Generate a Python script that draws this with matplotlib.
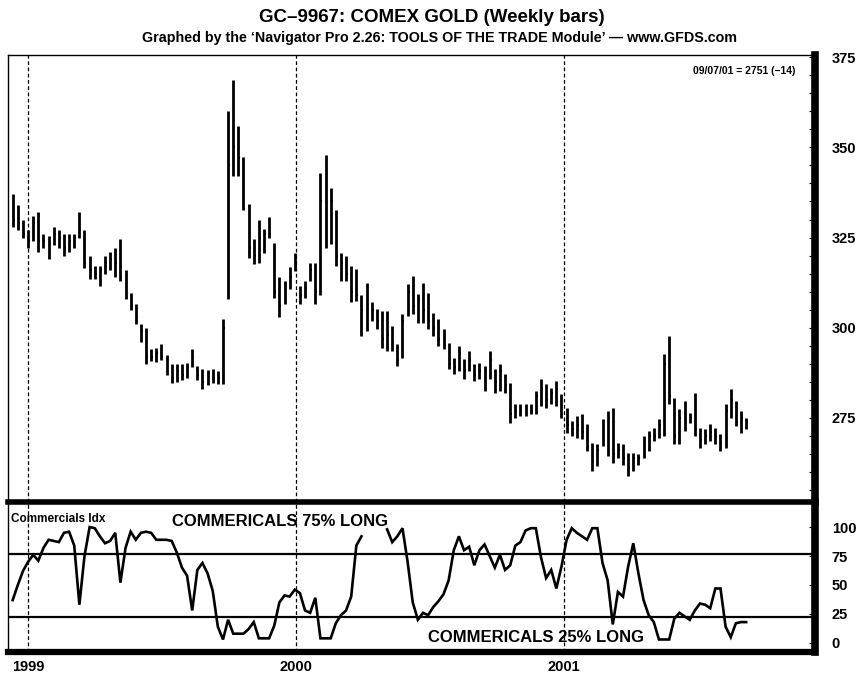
import numpy as np
import pandas as pd
import matplotlib
matplotlib.use("Agg")
import matplotlib.pyplot as plt
import matplotlib.dates as mdates
from matplotlib.ticker import MultipleLocator

# font: narrow bold look of the scanned chart
FONT = ["Liberation Sans Narrow", "Liberation Sans", "DejaVu Sans"]
plt.rcParams["font.family"] = FONT

# ---------------------------------------------------------------
# data (weekly bars, Friday dates)
# ---------------------------------------------------------------
weeks = pd.date_range("1998-12-11", periods=144, freq="7D")

high = [337, 334, 330, 327, 331, 332, 326, 325.5, 328, 327,
        326, 326, 326, 332, 327, 320, 317, 317, 320, 321,
        322, 324.7, 316, 309.7, 306.5, 301, 300, 294, 294.4, 295.5,
        292.5, 290, 290, 290, 290.3, 294, 289.5, 288.6, 288.3, 288.6,
        288, 302.5, 360, 368.6, 356, 347.3, 334.4, 324.7, 330, 327.5,
        330.6, 323.6, 314, 313, 316.7, 320.8, 311.7, 313, 318, 318,
        343, 347.8, 338.6, 332.5, 320.8, 320, 317.2, 316.4, 309, 312.5,
        307, 305.3, 304.7, 304.7, 300.5, 295.5, 303.8, 312, 314.4, 309.4,
        312.5, 309.7, 304.2, 302.5, 299.7, 295.8, 291.7, 295, 291.4, 293.6,
        290, 290.3, 289.4, 293.6, 288.6, 290, 287.2, 284.7, 279, 278.9,
        279, 278.9, 282.5, 285.8, 284.4, 283.3, 285.3, 281.7, 277.8, 274.2,
        275.6, 276, 273.3, 268, 267.8, 274.7, 277, 277.8, 268, 267.8,
        265.3, 265.3, 265, 270, 271.4, 272.2, 274.7, 292.8, 297.8, 280.6,
        277.5, 279.7, 276.4, 282, 272.2, 271.9, 273.3, 272.2, 270.5, 278.9,
        283, 279.7, 277, 275]

low = [328, 327, 325, 322, 324, 321, 322, 319, 323, 322,
       320, 321, 322, 325, 316.5, 313.5, 313.5, 311.5, 315, 316,
       314, 313, 308, 305, 301, 296, 290, 290.8, 290.5, 291,
       287, 284.7, 285, 285.5, 286, 289, 285.5, 283, 284, 284.7,
       284.4, 284.4, 308, 342, 342, 332.5, 319.4, 317.8, 318, 320.6,
       325, 308.3, 303, 306.7, 310.8, 315.8, 306.7, 308.3, 313, 306.7,
       309, 322, 323.3, 317.2, 313, 313, 307, 307.5, 297.8, 299,
       302, 299.7, 294.4, 293.6, 293.6, 289.5, 291.7, 303.3, 303.8, 301.4,
       301.4, 299.7, 297.8, 295, 294.2, 288.6, 287.2, 288, 285.8, 288,
       285.3, 285.8, 282.5, 285.8, 282, 282.5, 282, 273.6, 275, 275.6,
       275.6, 276, 276, 278.3, 277.8, 279, 278.3, 275, 270.8, 270,
       269.4, 269.2, 265.8, 260.3, 261.7, 267.2, 264.4, 262.5, 264, 262,
       258.9, 260.3, 262, 264, 265.8, 268.6, 269.4, 270, 278.9, 267.8,
       267.8, 271.4, 273.6, 270, 266.7, 267.8, 268.6, 267.8, 265.8, 266.7,
       275, 272.8, 270.8, 272]

close = [330, 329, 326, 324, 329, 324, 324, 323, 326, 325,
         322, 324, 325, 327, 318, 316, 315, 316, 318, 319,
         318, 314, 309, 306, 303, 299, 292, 292, 293, 292,
         288, 286, 288, 287, 289, 292, 287, 285, 287, 286,
         286, 300, 345, 350, 347, 333, 322, 320, 325, 326,
         326, 310, 306, 310, 314, 317, 309, 311, 316, 310,
         335, 340, 335, 320, 318, 315, 310, 309, 305, 303,
         305, 302, 297, 298, 296, 291, 302, 310, 306, 308,
         305, 302, 300, 297, 296, 290, 289, 293, 288, 291,
         287, 288, 284, 291, 285, 288, 284, 276, 277, 277,
         278, 277, 281, 283, 280, 282, 283, 276, 273, 272,
         273, 271, 267, 263, 266, 272, 275, 265, 266, 264,
         261, 264, 264, 268, 270, 270, 273, 290, 281, 270,
         275, 276, 275, 272, 269, 270, 271, 270, 268, 277,
         280, 274, 275, 274]

comm_idx = [37, 50, 62, 70, 76, 71, 82, 89, 88, 87,
            95, 96, 84, 33, 75, 100, 99, 92, 86, 88,
            95, 52, 82, 96, 89, 95, 96, 95, 89, 89,
            89, 88, 78, 65, 58, 28, 63, 69, 60, 45,
            14, 3, 20, 8, 8, 8, 12, 18, 4, 4,
            4, 15, 35, 41, 40, 46, 43, 28, 26, 39,
            4, 4, 4, 17, 24, 28, 40, 84, 92, np.nan,
            np.nan, np.nan, np.nan, 98, 87, 92, 99, 70, 35, 20,
            26, 24, 31, 36, 42, 54, 80, 92, 80, 83,
            67, 80, 85, 75, 65, 76, 63, 67, 84, 87,
            97, 99, 99, 74, 56, 63, 47, 66, 89, 99,
            95, 92, 89, 99, 99, 69, 54, 16, 44, 40,
            66, 86, 60, 37, 24, 18, 3, 3, 3, 21,
            26, 23, 20, 28, 34, 33, 30, 47, 47, 14,
            5, 17, 18, 18]

year_marks = ["1999-01-01", "2000-01-01", "2001-01-01"]
year_labels = ["1999", "2000", "2001"]
price_ticks = [275, 300, 325, 350, 375]
comm_ticks = [0, 25, 50, 75, 100]
comm_levels = [77, 22]

# ---------------------------------------------------------------
# figure
# ---------------------------------------------------------------
W, H = 865, 676
fig = plt.figure(figsize=(W / 100, H / 100), dpi=100)
fig.patch.set_facecolor("white")


def frac_box(x0, y0, x1, y1):
    return [x0 / W, 1 - y1 / H, (x1 - x0) / W, (y1 - y0) / H]


ax1 = fig.add_axes(frac_box(8, 55, 815, 502))
ax2 = fig.add_axes(frac_box(8, 502, 815, 652), sharex=ax1)

x = mdates.date2num(weeks)
x0 = x[0] - 6.4
x1 = x[0] + 1095

# price bars
ax1.vlines(x, low, high, color="black", lw=2.0)
ax1.hlines(close, x, x + 2.6, color="black", lw=1.4)
ax1.set_ylim(251.7, 375.6)
ax1.set_xlim(x0, x1)

# commercials index
ax2.plot(x, comm_idx, color="black", lw=1.9, solid_joinstyle="miter")
ax2.set_ylim(-7.8, 121.6)
for lv in comm_levels:
    ax2.axhline(lv, color="black", lw=1.6)

# year separators
for d in year_marks:
    xd = mdates.date2num(pd.Timestamp(d))
    for ax in (ax1, ax2):
        ax.axvline(xd, color="black", lw=0.9, ls=(0, (3, 2)))

# spines
for ax in (ax1, ax2):
    ax.spines["left"].set_linewidth(1.0)
    ax.spines["right"].set_linewidth(5.5)
ax1.spines["top"].set_linewidth(1.0)
ax1.spines["bottom"].set_visible(False)
ax2.spines["top"].set_linewidth(4.0)
ax2.spines["bottom"].set_linewidth(4.5)

# y ticks on the right
ax1.yaxis.tick_right()
ax1.set_yticks(price_ticks)
ax1.yaxis.set_minor_locator(MultipleLocator(5))
ax1.tick_params(axis="y", which="both", direction="in", length=4, width=0.8,
                pad=12, labelsize=10.5)
ax2.yaxis.tick_right()
ax2.set_yticks(comm_ticks)
ax2.tick_params(axis="y", direction="in", length=4, width=0.8,
                pad=12, labelsize=10.5)
for lab in ax1.get_yticklabels() + ax2.get_yticklabels():
    lab.set_fontweight("bold")

# x ticks
ax1.tick_params(axis="x", bottom=False, labelbottom=False)
ax2.set_xticks([mdates.date2num(pd.Timestamp(d)) for d in year_marks])
ax2.set_xticklabels(year_labels, fontweight="bold", fontsize=10.5)
ax2.tick_params(axis="x", length=0, pad=6)

# texts
fig.text(432 / W, 1 - 18 / H, "GC\u20139967: COMEX GOLD (Weekly bars)",
         ha="center", va="center", fontsize=13.5, fontweight="bold")
fig.text(440 / W, 1 - 38 / H,
         "Graphed by the \u2018Navigator Pro 2.26: TOOLS OF THE TRADE Module\u2019 \u2014 www.GFDS.com",
         ha="center", va="center", fontsize=10.3, fontweight="bold")
ax1.text(0.976, 0.965, "09/07/01 = 2751 (\u221214)", transform=ax1.transAxes,
         ha="right", va="center", fontsize=7.5, fontweight="bold")
ax2.text(0.004, 0.89, "Commercials Idx", transform=ax2.transAxes,
         ha="left", va="center", fontsize=8.5, fontweight="bold")
ax2.text(272 / 807, 0.87, "COMMERICALS 75% LONG", transform=ax2.transAxes,
         ha="center", va="center", fontsize=12, fontweight="bold",
         family=["Liberation Sans", "DejaVu Sans"])
ax2.text(528 / 807, 0.10, "COMMERICALS 25% LONG", transform=ax2.transAxes,
         ha="center", va="center", fontsize=12, fontweight="bold",
         family=["Liberation Sans", "DejaVu Sans"])

fig.savefig("out.png", dpi=100, facecolor="white")
